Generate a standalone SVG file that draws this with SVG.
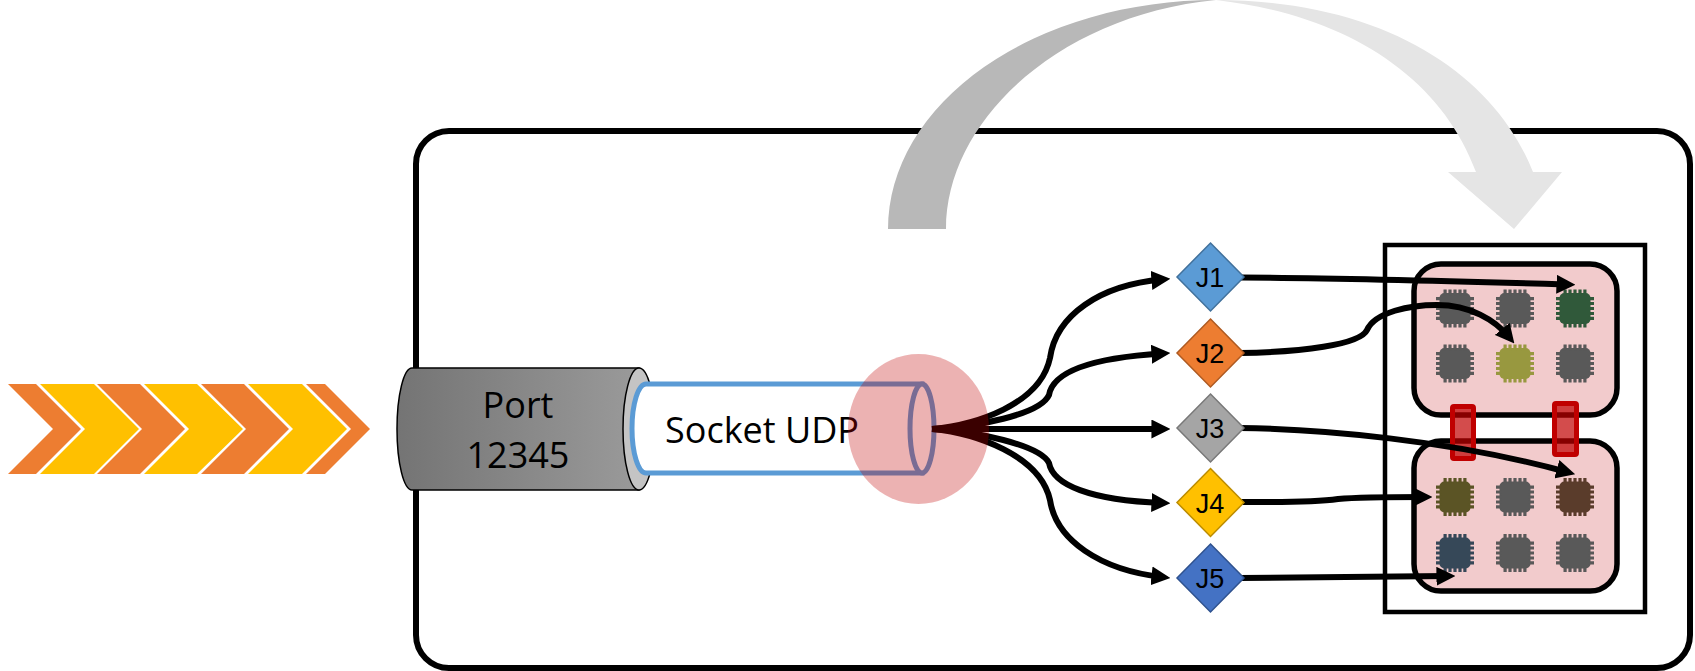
<svg xmlns="http://www.w3.org/2000/svg" width="1695" height="671" viewBox="0 0 1695 671">
<style>
.conn{fill:none;stroke:#000;stroke-width:6;marker-end:url(#arrow)}
.diamond text{font-family:"Liberation Sans",Arial,sans-serif;font-size:27px;text-anchor:middle;fill:#000}
.label{font-family:"Open Sans","Noto Sans",sans-serif;font-size:36px;text-anchor:middle;fill:#000}
.panel{fill:#F2CBCC;stroke:#000;stroke-width:5.5}
.bridge{fill:#C00000;fill-opacity:.7;stroke:#C00000;stroke-width:5}
.or{fill:#ED7D31}
.ye{fill:#FFC000}
</style>
<defs>
<marker id="arrow" markerUnits="userSpaceOnUse" markerWidth="19" markerHeight="19" viewBox="0 0 18 18" refX="10" refY="9" orient="auto"><path d="M0,0L18,9L0,18Z" fill="#000"/></marker>
<linearGradient id="port" x1="0" x2="1" y1="0" y2="0"><stop offset="0" stop-color="#747474"/><stop offset="1" stop-color="#9A9A9A"/></linearGradient>
<g id="chip">
<rect x="-15.5" y="-15.5" width="31" height="31" rx="5"/>
<path d="M-11.5,-19h3.200v6h-3.200zM-6.600,-19h3.200v6h-3.200zM-1.600,-19h3.200v6h-3.200zM3.400,-19h3.200v6h-3.200zM8.300,-19h3.200v6h-3.200zM-11.500,13h3.200v6h-3.200zM-6.600,13h3.200v6h-3.200zM-1.600,13h3.200v6h-3.200zM3.400,13h3.200v6h-3.200zM8.300,13h3.200v6h-3.200zM-19,-11.500h6v3.200h-6zM-19,-6.600h6v3.200h-6zM-19,-1.600h6v3.200h-6zM-19,3.400h6v3.200h-6zM-19,8.300h6v3.200h-6zM13,-11.500h6v3.200h-6zM13,-6.600h6v3.200h-6zM13,-1.600h6v3.200h-6zM13,3.400h6v3.200h-6zM13,8.300h6v3.200h-6z"/>
</g>
</defs>

<rect id="host" x="416" y="131" width="1274" height="537" rx="33" fill="#fff" stroke="#000" stroke-width="6"/>

<g id="migration-arc">
<path d="M888,229A328,229 0 0 1 1216,0C1060,15 946,120 946,229Z" fill="#B8B8B8"/>
<path d="M1216,0C1385,0 1495,75 1533,172H1562L1514,229L1448,172H1476C1440,75 1345,15 1216,0Z" fill="#E5E5E5"/>
</g>

<g id="packets">
<path class="or" d="M8,384H36L81,429L36,474H8L53,429Z"/>
<path class="ye" d="M40,384H94L139,429L94,474H40L85,429Z"/>
<path class="or" d="M97,384H140L185,429L140,474H97L142,429Z"/>
<path class="ye" d="M144,384H197L243,429L197,474H144L189,429Z"/>
<path class="or" d="M201,384H244L289,429L244,474H201L246,429Z"/>
<path class="ye" d="M248,384H302L347,429L302,474H248L293,429Z"/>
<path class="or" d="M306,384H325L370,429L325,474H306L351,429Z"/>
</g>

<g id="port-node">
<path d="M412,368H639V490H412A15,61 0 0 1 412,368Z" fill="url(#port)" stroke="#000" stroke-width="1.5"/>
<ellipse cx="639" cy="429" rx="16" ry="61" fill="#C4C4C4" stroke="#000" stroke-width="1.5"/>
<text class="label" x="518" y="418">Port</text>
<text class="label" x="518" y="468">12345</text>
</g>

<g id="socket-node">
<path d="M922,384H646A14,44.500 0 0 0 646,473H922Z" fill="#fff" stroke="#5B9BD5" stroke-width="5"/>
<ellipse cx="922" cy="428.500" rx="12" ry="44.500" fill="#fff" stroke="#5B9BD5" stroke-width="5"/>
<text class="label" x="762" y="443">Socket UDP</text>
</g>

<g id="numa-frame"><rect x="1385" y="245" width="260" height="367" fill="#fff" stroke="#000" stroke-width="4.500"/></g>

<g id="cpu-top">
<rect class="panel" x="1414" y="264" width="203" height="151" rx="27"/>
<use href="#chip" x="1455" y="308.500" fill="#595959"/>
<use href="#chip" x="1515" y="308.500" fill="#595959"/>
<use href="#chip" x="1575" y="308.500" fill="#30593A"/>
<use href="#chip" x="1455" y="363.500" fill="#595959"/>
<use href="#chip" x="1515" y="363.500" fill="#98983F"/>
<use href="#chip" x="1575" y="363.500" fill="#595959"/>
</g>
<g id="cpu-bottom">
<rect class="panel" x="1414" y="441" width="203" height="150" rx="27"/>
<use href="#chip" x="1455" y="497" fill="#5B5425"/>
<use href="#chip" x="1515" y="497" fill="#595959"/>
<use href="#chip" x="1575" y="497" fill="#5A3C2B"/>
<use href="#chip" x="1455" y="553" fill="#364858"/>
<use href="#chip" x="1515" y="553" fill="#595959"/>
<use href="#chip" x="1575" y="553" fill="#595959"/>
</g>
<g id="bridges">
<rect class="bridge" x="1452.500" y="406.500" width="21" height="52" rx="1.500"/>
<rect class="bridge" x="1554.500" y="403.500" width="22" height="51" rx="1.500"/>
</g>

<g id="connectors">
<path class="conn" d="M932,429C975,425 1040,405 1050,358C1056,315 1100,285 1162,279.500"/>
<path class="conn" d="M932,429C975,427 1040,415 1049,395C1053,372 1090,358 1162,353.500"/>
<path class="conn" d="M932,429H1162"/>
<path class="conn" d="M932,429C975,431 1040,445 1049,463C1053,485 1090,500 1162,503"/>
<path class="conn" d="M932,429C975,433 1040,455 1050,500C1056,540 1100,570 1162,577"/>
<path class="conn" d="M1240,277.500C1350,278 1450,281 1567,284.500"/>
<path class="conn" d="M1240,353C1300,352 1360,345 1367,330C1375,312 1410,305 1437,305C1470,305 1495,320 1509,337"/>
<path class="conn" d="M1240,428C1320,429 1450,440 1567,472"/>
<path class="conn" d="M1240,502C1270,502 1310,503 1338,499C1360,497 1400,497 1424,497"/>
<path class="conn" d="M1240,578C1300,578 1370,577 1447,576"/>
</g>

<g id="socket-highlight"><ellipse cx="918.500" cy="429" rx="70.500" ry="75" fill="#C00000" fill-opacity=".3"/></g>

<g id="J1" class="diamond"><path d="M1210.500,243L1244,277L1210.500,311L1177,277Z" fill="#5B9BD5" stroke="#41719C" stroke-width="1.500"/><text x="1210" y="287">J1</text></g>
<g id="J2" class="diamond"><path d="M1210.500,319L1244,353L1210.500,387L1177,353Z" fill="#ED7D31" stroke="#AE5A21" stroke-width="1.500"/><text x="1210" y="363">J2</text></g>
<g id="J3" class="diamond"><path d="M1210.500,394L1244,428L1210.500,462L1177,428Z" fill="#A5A5A5" stroke="#787878" stroke-width="1.500"/><text x="1210" y="438">J3</text></g>
<g id="J4" class="diamond"><path d="M1210.500,468.500L1244,502.500L1210.500,536.500L1177,502.500Z" fill="#FFC000" stroke="#BC8C00" stroke-width="1.500"/><text x="1210" y="513">J4</text></g>
<g id="J5" class="diamond"><path d="M1210.500,544L1244,578L1210.500,612L1177,578Z" fill="#4472C4" stroke="#2F528F" stroke-width="1.500"/><text x="1210" y="588">J5</text></g>
</svg>
